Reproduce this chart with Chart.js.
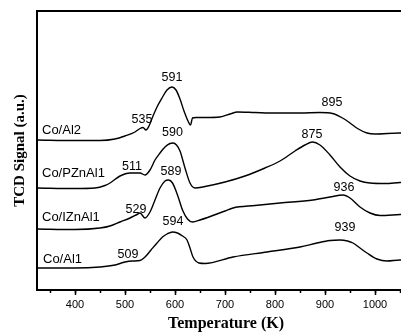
<!DOCTYPE html>
<html>
<head>
<meta charset="utf-8">
<script src="https://cdn.jsdelivr.net/npm/chart.js@4/dist/chart.umd.min.js"></script>
<style>
  html, body { margin: 0; padding: 0; background: #fff; overflow: hidden; }
  canvas { display: block; }
</style>
</head>
<body>
<canvas id="tprChart" width="415" height="332"></canvas>
<script>
// TPR profiles (temperature in K, signal in a.u.)
const tempAl2 = [324, 400, 450, 480, 500, 520, 530, 536, 542, 548, 556, 565, 574, 584, 594, 602, 610, 618, 626, 631, 635, 642, 660, 690, 710, 725, 760, 800, 850, 890, 915, 935, 950, 965, 984, 1000, 1050, 1080];
const signalAl2 = [150, 149.5, 149.5, 151, 154, 158, 161.5, 162.5, 160, 164, 174, 184, 192, 200, 203, 200, 191, 179, 169, 165, 172, 172.5, 172.5, 173, 176, 178, 177.5, 177, 177, 177.5, 176.5, 172, 167, 161.5, 157, 156, 157, 157];

const tempPZnAl1 = [324, 400, 440, 460, 470, 490, 510, 530, 540, 550, 560, 570, 580, 590, 596, 603, 610, 620, 630, 640, 660, 700, 740, 780, 810, 840, 860, 875, 890, 910, 930, 950, 970, 990, 1020, 1050, 1080];
const signalPZnAl1 = [102, 101.5, 102, 104.5, 107, 114, 117, 117, 115, 120, 130, 137, 143, 146.5, 147, 145, 139, 122, 107, 102, 103.5, 108, 114, 122, 129, 139, 145, 148, 145, 135, 123, 114, 109, 107, 106.5, 107.5, 108];

const tempIZnAl1 = [324, 400, 450, 470, 490, 510, 524, 530, 540, 550, 560, 570, 580, 587, 595, 605, 615, 625, 635, 650, 700, 716, 760, 810, 876, 910, 936, 950, 970, 990, 1010, 1050, 1080];
const signalIZnAl1 = [61, 60.5, 62, 64, 68, 72, 75.5, 77, 72, 78, 90, 102, 109, 110, 107, 95, 80, 71, 68, 70, 79, 82, 84.5, 87, 90, 93, 95, 92, 83, 77, 74.5, 75.5, 76];

const tempAl1 = [324, 400, 450, 480, 500, 515, 530, 540, 552, 564, 575, 584, 595, 605, 615, 624, 630, 636, 648, 660, 716, 784, 850, 884, 910, 930, 945, 956, 970, 984, 1004, 1024, 1050, 1080];
const signalAl1 = [22, 22, 23, 25, 28, 29, 29.5, 33, 40, 47, 53, 56, 58, 57, 54, 50, 42, 33, 27, 26.5, 33, 38, 43, 47, 49.5, 50, 49, 47, 42, 37, 31, 29, 30, 30];

// text annotations: sample names and peak temperatures
const labelTexts = ['591', '535', '895', 'Co/Al2', '590', '511', 'Co/PZnAl1', '875', '589', '529', 'Co/IZnAl1', '936', '594', '509', 'Co/Al1', '939'];
const labelTemps = [594, 534, 914, 334, 595, 514, 334, 874, 592, 522, 334, 938, 596, 506, 336, 940];
const labelSignals = [212, 170, 187, 160, 157, 123, 117, 155, 118, 80, 73, 102, 68, 35, 31, 62];

const xMin = 324, xMax = 1080;

function toPoints(xs, ys) {
  return xs.map((x, i) => ({ x: x, y: ys[i] }));
}

function curve(xs, ys) {
  return {
    data: toPoints(xs, ys),
    borderColor: '#000',
    borderWidth: 1.4,
    pointRadius: 0,
    fill: false,
    cubicInterpolationMode: 'monotone'
  };
}

// draws the peak / sample labels at data coordinates
const curveLabels = {
  id: 'curveLabels',
  afterDatasetsDraw(chart) {
    const ctx = chart.ctx;
    const xs = chart.scales.x, ys = chart.scales.y;
    ctx.save();
    ctx.fillStyle = '#000';
    ctx.textBaseline = 'middle';
    labelTexts.forEach((t, i) => {
      const isName = t.startsWith('Co/');
      ctx.font = isName ? '13px "Liberation Sans", Arial, sans-serif' : '12.5px "Liberation Sans", Arial, sans-serif';
      ctx.textAlign = isName ? 'left' : 'center';
      ctx.fillText(t, xs.getPixelForValue(labelTemps[i]), ys.getPixelForValue(labelSignals[i]));
    });
    ctx.restore();
  }
};

Chart.defaults.color = '#000';
Chart.defaults.font.family = '"Liberation Sans", Arial, sans-serif';

const ctx = document.getElementById('tprChart').getContext('2d');
const tprChart = new Chart(ctx, {
  type: 'line',
  data: {
    datasets: [
      curve(tempAl2, signalAl2),
      curve(tempPZnAl1, signalPZnAl1),
      curve(tempIZnAl1, signalIZnAl1),
      curve(tempAl1, signalAl1)
    ]
  },
  options: {
    responsive: false,
    devicePixelRatio: 1,
    animation: false,
    layout: { padding: { top: 11, right: 0, left: 0, bottom: 0 } },
    plugins: { legend: { display: false }, tooltip: { enabled: false } },
    scales: {
      x: {
        type: 'linear',
        position: 'bottom',
        weight: 1,
        min: xMin,
        max: xMax,
        ticks: {
          stepSize: 100,
          includeBounds: false,
          padding: 3,
          font: { size: 11 },
          callback: (v) => String(v) // no thousands separator
        },
        grid: { drawOnChartArea: false, tickLength: 5, tickWidth: 1.5, tickColor: '#000' },
        border: { color: '#000', width: 2 },
        title: {
          display: true,
          text: 'Temperature (K)',
          font: { family: '"Liberation Serif", "Times New Roman", serif', size: 16, weight: 'bold', lineHeight: 1 },
          padding: { top: 0, bottom: 0 }
        },
        afterFit(scale) { scale.height = 42; }
      },
      xMinor: {
        type: 'linear',
        position: 'bottom',
        weight: 0,
        min: xMin,
        max: xMax,
        ticks: { stepSize: 50, includeBounds: false, display: false },
        grid: { drawOnChartArea: false, tickLength: 3, tickWidth: 1.5, tickColor: '#000' },
        border: { display: false },
        afterFit(scale) { scale.height = 0; }
      },
      xTop: {
        type: 'linear',
        position: 'top',
        min: xMin,
        max: xMax,
        ticks: { display: false },
        grid: { display: false },
        border: { color: '#000', width: 2 },
        afterFit(scale) { scale.height = 0; }
      },
      y: {
        type: 'linear',
        position: 'left',
        min: 0,
        max: 279,
        ticks: { display: false },
        grid: { display: false },
        border: { color: '#000', width: 2 },
        title: {
          display: true,
          text: 'TCD Signal (a.u.)',
          font: { family: '"Liberation Serif", "Times New Roman", serif', size: 15, weight: 'bold' },
          padding: { top: 11, bottom: 0 }
        },
        afterFit(scale) { scale.width = 37; }
      }
    }
  },
  plugins: [curveLabels]
});
</script>
</body>
</html>
